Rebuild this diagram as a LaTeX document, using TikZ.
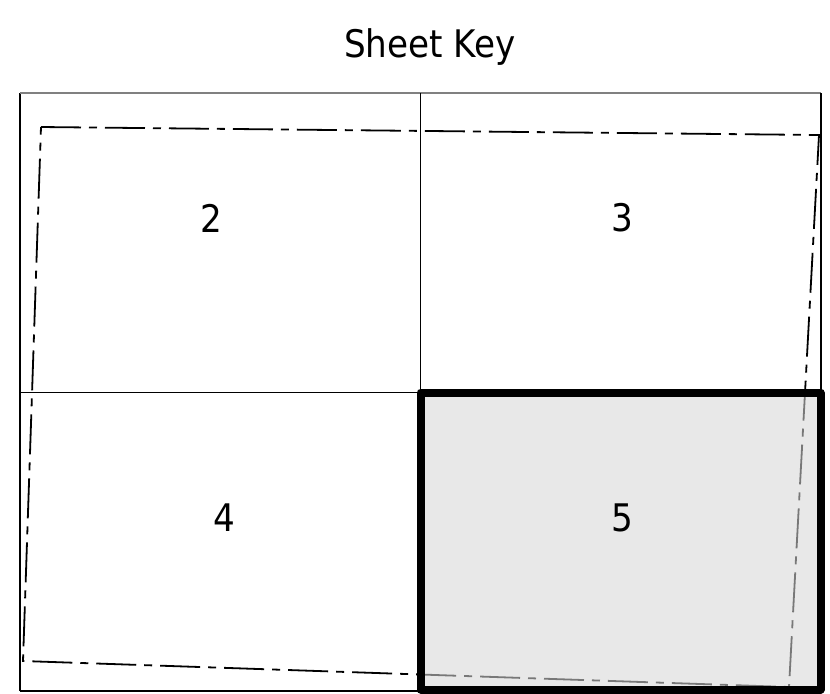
\documentclass[tikz,border=0pt]{standalone}
\usepackage{fontspec}
\setmainfont{DejaVu Sans Condensed}
\tikzset{
  frameline/.style={line width=0.75pt,black},
  outline/.style={line width=0.9pt,black,dash pattern=on 20pt off 4pt on 4pt off 4pt},
  sheetlabel/.style={font=\fontsize{19}{22}\selectfont}
}
\begin{document}
\begin{tikzpicture}[x=0.5pt,y=-0.5pt]
    \useasboundingbox (0,0) rectangle (830,693);
    % sheet grid
    \draw[frameline] (20,691) -- (20,93);
    \draw[frameline,gray] (20,93) -- (821,93);
    \draw[frameline] (821,93) -- (821,691) -- (20,691);
    \draw[frameline] (420.5,93) -- (420.5,691);
    \draw[frameline] (20,392.5) -- (821,392.5);
    % project outline
    \draw[outline] (41,127) -- (819,135) -- (789,687) -- (23,661) -- cycle;
    % current sheet
    \fill[fill={rgb,255:red,214;green,214;blue,214},opacity=0.56] (420.5,392.5) rectangle (820.5,689.5);
    \draw[line width=4pt,line join=round] (420.5,392.5) rectangle (820.5,689.5);
    \node[sheetlabel,anchor=base] (title) at (430,57) {Sheet Key};
    \node[sheetlabel] (s2) at (211,218) {2};
    \node[sheetlabel] (s3) at (622,218) {3};
    \node[sheetlabel] (s4) at (224,518) {4};
    \node[sheetlabel] (s5) at (622,518) {5};
\end{tikzpicture}
\end{document}
